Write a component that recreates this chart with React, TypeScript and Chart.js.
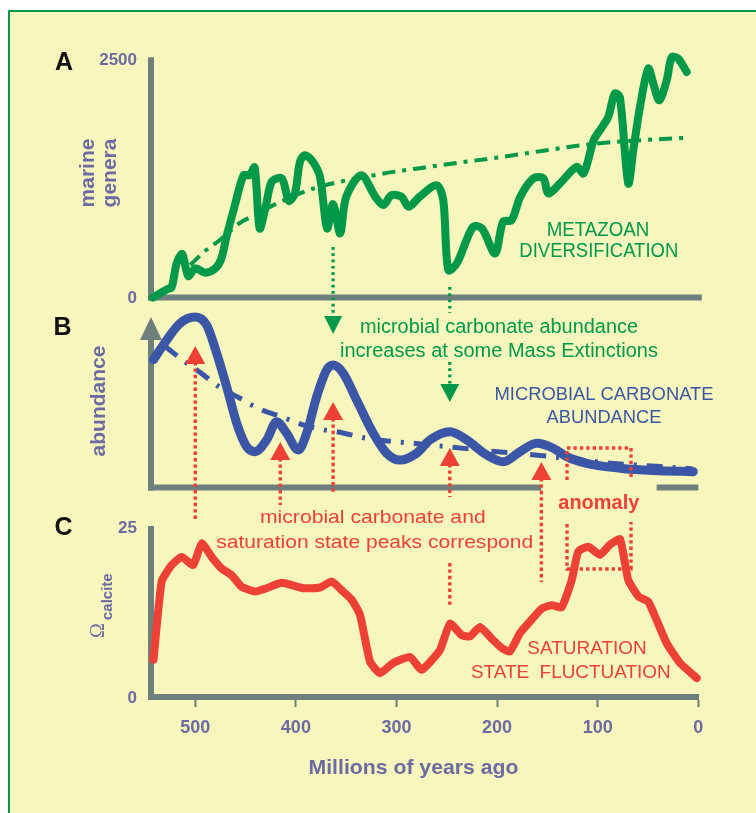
import React, { useEffect, useRef } from 'react';
import { Chart, registerables } from 'chart.js';

Chart.register(...registerables);

const FONT = "'Liberation Sans', Arial, Helvetica, sans-serif";
const GREEN = '#00994a';
const BLUE = '#3b56a6';
const RED = '#ee4136';
const GREY = '#6f7f7e';
const PURPLE = '#6b6aa3';
const YELLOW = '#f7f6bd';

// Panel A: marine genera (Ma, number of genera)
const generaAges = [542, 528, 523.5, 518.5, 513, 507, 500, 490, 480, 474, 469, 461, 452, 446, 441, 436, 430, 424, 414, 407, 401, 396, 391, 383, 376, 369, 363, 356, 350, 335, 321, 313, 305, 295, 288, 277, 260, 253.5, 248.5, 240, 224, 215, 202, 194, 185.5, 177, 164, 154, 149, 137.5, 121, 114, 104, 96, 89.5, 83, 78, 69.6, 64.6, 58, 49.7, 44.7, 38.8, 31.4, 26.4, 20, 11.5];
const generaValues = [0, 86, 107, 358, 456, 225, 306, 260, 306, 411, 637, 952, 1284, 1284, 1365, 725, 952, 1214, 1250, 1015, 1092, 1423, 1494, 1423, 1266, 725, 980, 673, 1057, 1284, 1057, 970, 1074, 1057, 952, 1057, 1179, 1022, 288, 358, 742, 725, 463, 795, 812, 1057, 1250, 1250, 1092, 1197, 1371, 1302, 1651, 1784, 1895, 2140, 2105, 1197, 1546, 2000, 2403, 2245, 2070, 2280, 2524, 2507, 2367];
const generaTrendAges = [505, 489, 475.5, 456, 441, 418, 381, 316, 272, 197, 98, 11.5];
const generaTrendValues = [341, 498, 603, 781, 865, 991, 1148, 1295, 1365, 1473, 1619, 1677];

// Panel B: microbial carbonate abundance (relative units)
const abundAges = [541.5, 528.4, 515.2, 500.3, 488.7, 478.7, 468.8, 458.8, 448.9, 440.7, 429, 419.1, 409.2, 397.6, 389.3, 379.3, 369.4, 362.8, 352.9, 339.6, 323.1, 309.8, 296.5, 279.9, 266.7, 246.8, 230.2, 210.3, 193.8, 177.2, 160.6, 144.1, 130.8, 110.9, 77.8, 44.7, 5];
const abundValues = [75, 86.5, 96.3, 100, 95.3, 78.7, 59.1, 37.7, 23.9, 21, 27.9, 38.6, 31.8, 22, 31.8, 53.3, 68.9, 71.8, 67, 51.3, 31.8, 20.1, 16.1, 20.1, 27.9, 32.7, 27.9, 19.1, 15.1, 21, 25.9, 23, 18.1, 14.2, 11.3, 9.9, 9.3];
const abundTrendAges = [530.5, 512.6, 495.7, 475.9, 456, 436.1, 416.2, 395.3, 376.4, 353.2, 331.4, 309.5, 286.6, 246.8, 207.1, 157.4, 117.6, 77.8, 38, 5.3];
const abundTrendValues = [83, 74.8, 67.7, 58.9, 52.5, 46, 41.9, 37.2, 34.3, 32, 29, 27.3, 26.1, 23.8, 21.4, 18.8, 16.1, 13.8, 12.3, 10.9];

// Panel C: calcite saturation state
const omegaAges = [541.5, 533.4, 523.5, 513.5, 502, 493.6, 483.7, 473.8, 463.8, 453.9, 440.7, 429, 414.1, 392.6, 376, 364.4, 354.5, 344.5, 336.3, 326.3, 316.4, 303.2, 286.6, 275, 256.8, 246.8, 235.2, 226.9, 217, 205.4, 195.4, 187.2, 177.2, 167.3, 155.7, 145.7, 135.8, 125.8, 119.3, 109.3, 97.7, 87.8, 77.8, 69.6, 59.6, 49.7, 41.4, 31.4, 18.2, 1.6];
const omegaValues = [5.5, 17, 19.4, 20.6, 19.4, 22.6, 20.6, 18.9, 17.9, 16.2, 15.5, 16, 16.8, 16, 16.1, 17, 15.7, 14.3, 12.1, 5.2, 3.5, 5, 5.9, 4, 6.9, 10.8, 9.1, 8.9, 10.3, 8.6, 7.2, 6.7, 9.4, 11.1, 13, 13.5, 13.2, 17.2, 21.4, 22.1, 20.9, 22.4, 23.2, 17.2, 14.8, 14, 11.3, 7.9, 5, 2.8];

const xTickValues = [500, 400, 300, 200, 100, 0];
const generaTicks = [0, 2500];
const omegaTicks = [0, 25];

// annotation anchors (ages, Ma)
const extinctionAges = [363, 247];
const peakArrowAges = [500, 415.5, 363, 247, 156];
const anomalyAges = [130.5, 66.9];

const pts = (xs: number[], ys: number[]) => xs.map((x, i) => ({ x, y: ys[i] }));

function dotted(ctx: any, x1: number, y1: number, x2: number, y2: number, color: string, w: number, dash: number[]) {
  ctx.save();
  ctx.strokeStyle = color;
  ctx.lineWidth = w;
  ctx.lineCap = 'butt';
  ctx.setLineDash(dash);
  ctx.beginPath();
  ctx.moveTo(x1, y1);
  ctx.lineTo(x2, y2);
  ctx.stroke();
  ctx.restore();
}

function tri(ctx: any, x: number, tipY: number, baseY: number, hw: number, color: string) {
  ctx.save();
  ctx.fillStyle = color;
  ctx.beginPath();
  ctx.moveTo(x, tipY);
  ctx.lineTo(x - hw, baseY);
  ctx.lineTo(x + hw, baseY);
  ctx.closePath();
  ctx.fill();
  ctx.restore();
}

function solid(ctx: any, x1: number, y1: number, x2: number, y2: number, color: string, w: number) {
  ctx.save();
  ctx.strokeStyle = color;
  ctx.lineWidth = w;
  ctx.lineCap = 'butt';
  ctx.beginPath();
  ctx.moveTo(x1, y1);
  ctx.lineTo(x2, y2);
  ctx.stroke();
  ctx.restore();
}

function fitText(ctx: any, text: string, cx: number, by: number, font: string, color: string, width: number) {
  ctx.save();
  ctx.font = font;
  ctx.fillStyle = color;
  ctx.textAlign = 'center';
  ctx.textBaseline = 'alphabetic';
  const w = ctx.measureText(text).width;
  ctx.translate(cx, by);
  ctx.scale(width / w, 1);
  ctx.fillText(text, 0, 0);
  ctx.restore();
}

function vText(ctx: any, text: string, bx: number, cy: number, font: string, color: string) {
  ctx.save();
  ctx.translate(bx, cy);
  ctx.rotate(-Math.PI / 2);
  ctx.font = font;
  ctx.fillStyle = color;
  ctx.textAlign = 'center';
  ctx.textBaseline = 'alphabetic';
  ctx.fillText(text, 0, 0);
  ctx.restore();
}

const overlay = {
  id: 'overlay',
  beforeDatasetsDraw(chart: any) {
    const ctx = chart.ctx;
    const xs = chart.scales.x;
    const yA = chart.scales.yA;
    const yB = chart.scales.yB;
    const yC = chart.scales.yC;
    const left = chart.chartArea.left;
    const right = xs.getPixelForValue(0);
    // panel A axes
    const a0 = yA.getPixelForValue(0);
    solid(ctx, left, yA.getPixelForValue(2500) - 2, left, a0 + 3, GREY, 6);
    solid(ctx, left - 3, a0, right + 3.5, a0, GREY, 6);
    // panel B axes
    const b0 = yB.getPixelForValue(0);
    tri(ctx, left, 317, 340, 11, GREY);
    solid(ctx, left, 339, left, b0 + 3, GREY, 6);
    solid(ctx, left - 3, b0, xs.getPixelForValue(156), b0, GREY, 6);
    solid(ctx, xs.getPixelForValue(41.4), b0, right, b0, GREY, 6);
    // panel C vertical axis
    solid(ctx, left, yC.getPixelForValue(25) - 1, left, yC.getPixelForValue(0), GREY, 6);
  },
  afterDatasetsDraw(chart: any) {
    const ctx = chart.ctx;
    const xs = chart.scales.x;
    const yA = chart.scales.yA;
    const yC = chart.scales.yC;
    const X = (a: number) => xs.getPixelForValue(a);

    // green dotted arrows (mass extinctions)
    const gd = [2.7, 3.6];
    dotted(ctx, X(extinctionAges[0]), 247, X(extinctionAges[0]), 318, GREEN, 3.3, gd);
    tri(ctx, X(extinctionAges[0]), 334, 316, 9, GREEN);
    dotted(ctx, X(extinctionAges[1]), 287, X(extinctionAges[1]), 313, GREEN, 3.3, gd);
    dotted(ctx, X(extinctionAges[1]), 362, X(extinctionAges[1]), 386, GREEN, 3.3, gd);
    tri(ctx, X(extinctionAges[1]), 402, 384, 9.5, GREEN);

    // red dotted arrows (peaks correspond)
    const rd = [3.4, 3];
    const tips = [346, 442, 402, 448, 462];
    const ends = [520, 505, 492, 497, 582];
    peakArrowAges.forEach((a, i) => {
      dotted(ctx, X(a), tips[i] + 16, X(a), ends[i], RED, 3.4, rd);
      tri(ctx, X(a), tips[i], tips[i] + 18, 10, RED);
    });
    dotted(ctx, X(247), 563, X(247), 607, RED, 3.4, rd);

    // anomaly box
    const xl = X(anomalyAges[0]);
    const xr = X(anomalyAges[1]);
    ctx.save();
    ctx.strokeStyle = RED;
    ctx.lineWidth = 3.4;
    ctx.setLineDash(rd);
    ctx.beginPath();
    ctx.moveTo(xl, 480); ctx.lineTo(xl, 448); ctx.lineTo(xr, 448); ctx.lineTo(xr, 480);
    ctx.stroke();
    ctx.beginPath();
    ctx.moveTo(xl, 524); ctx.lineTo(xl, 569); ctx.lineTo(xr, 569); ctx.lineTo(xr, 522);
    ctx.stroke();
    ctx.restore();

    // panel letters
    ctx.save();
    ctx.fillStyle = '#111';
    ctx.font = `bold 25px ${FONT}`;
    ctx.textAlign = 'center';
    ctx.textBaseline = 'alphabetic';
    ctx.fillText('A', 64, 70);
    ctx.fillText('B', 62.5, 335);
    ctx.fillText('C', 63.5, 535);
    ctx.restore();

    // y tick labels
    ctx.save();
    ctx.fillStyle = PURPLE;
    ctx.font = `bold 17px ${FONT}`;
    ctx.textAlign = 'right';
    ctx.textBaseline = 'middle';
    generaTicks.forEach((v) => ctx.fillText(String(v), 137, yA.getPixelForValue(v) + 1));
    omegaTicks.forEach((v) => ctx.fillText(String(v), 137, yC.getPixelForValue(v) + 1));
    ctx.restore();

    // axis titles
    vText(ctx, 'marine', 94, 173, `bold 21px ${FONT}`, PURPLE);
    vText(ctx, 'genera', 116, 173, `bold 21px ${FONT}`, PURPLE);
    vText(ctx, 'abundance', 105, 401, `bold 21px ${FONT}`, PURPLE);
    ctx.save();
    ctx.translate(104, 638);
    ctx.rotate(-Math.PI / 2);
    ctx.fillStyle = PURPLE;
    ctx.textBaseline = 'alphabetic';
    ctx.textAlign = 'left';
    ctx.font = `20px 'Liberation Serif', 'DejaVu Serif', serif`;
    ctx.fillText('\u03A9', 0, 0);
    ctx.font = `bold 15px ${FONT}`;
    ctx.fillText('calcite', 18, 8);
    ctx.restore();
    fitText(ctx, 'Millions of years ago', 413.5, 773.5, `bold 21px ${FONT}`, PURPLE, 210);

    // series labels
    fitText(ctx, 'METAZOAN', 598, 236, `20px ${FONT}`, GREEN, 102.6);
    fitText(ctx, 'DIVERSIFICATION', 598.8, 256.7, `20px ${FONT}`, GREEN, 159);
    fitText(ctx, 'microbial carbonate abundance', 499, 333.3, `20px ${FONT}`, GREEN, 278);
    fitText(ctx, 'increases at some Mass Extinctions', 499, 356.7, `20px ${FONT}`, GREEN, 318);
    fitText(ctx, 'MICROBIAL CARBONATE', 604, 400, `19px ${FONT}`, BLUE, 219);
    fitText(ctx, 'ABUNDANCE', 604, 423.3, `19px ${FONT}`, BLUE, 115);
    fitText(ctx, 'anomaly', 598.8, 509, `bold 20px ${FONT}`, RED, 81);
    fitText(ctx, 'microbial carbonate and', 372.8, 523.3, `19px ${FONT}`, RED, 225.7);
    fitText(ctx, 'saturation state peaks correspond', 374.7, 547.5, `19px ${FONT}`, RED, 317);
    fitText(ctx, 'SATURATION', 587, 654, `18.5px ${FONT}`, RED, 119.4);
    fitText(ctx, 'STATE  FLUCTUATION', 570.8, 678.3, `18.5px ${FONT}`, RED, 199.7);
  },
};

export default function App() {
  const ref = useRef<HTMLCanvasElement>(null);
  useEffect(() => {
    if (!ref.current) return;
    Chart.defaults.font.family = FONT;
    const line = (data: any, color: string, width: number, axis: string, extra: any = {}) => ({
      data,
      borderColor: color,
      borderWidth: width,
      pointRadius: 0,
      pointHoverRadius: 0,
      fill: false,
      yAxisID: axis,
      borderJoinStyle: 'round',
      borderCapStyle: 'round',
      clip: false,
      ...extra,
    });
    const chart = new Chart(ref.current, {
      type: 'line',
      data: {
        datasets: [
          line(pts(generaTrendAges, generaTrendValues), GREEN, 4, 'yA', { borderDash: [13, 7, 4, 7], borderCapStyle: 'butt', tension: 0.4, cubicInterpolationMode: 'monotone' }),
          line(pts(abundTrendAges, abundTrendValues), BLUE, 5, 'yB', { borderDash: [16, 10, 3, 10], borderCapStyle: 'butt', tension: 0.4, cubicInterpolationMode: 'monotone' }),
          line(pts(generaAges, generaValues), GREEN, 8, 'yA', { tension: 0.3 }),
          line(pts(abundAges, abundValues), BLUE, 9, 'yB', { cubicInterpolationMode: 'monotone' }),
          line(pts(omegaAges, omegaValues), RED, 8, 'yC', { tension: 0.15 }),
        ],
      },
      options: {
        responsive: false,
        animation: false,
        events: [],
        parsing: true,
        layout: { padding: { left: 151, right: 57.7, top: 40, bottom: 26 } },
        plugins: { legend: { display: false }, tooltip: { enabled: false }, title: { display: false } },
        scales: {
          x: {
            type: 'linear',
            reverse: true,
            min: 0,
            max: 544,
            afterBuildTicks: (s: any) => { s.ticks = xTickValues.map((v) => ({ value: v })); },
            afterFit: (s: any) => { s.height = 90; },
            grid: { display: true, drawOnChartArea: false, drawTicks: true, tickLength: 10, tickWidth: 2, tickColor: GREY },
            border: { display: true, color: GREY, width: 6 },
            ticks: { color: PURPLE, font: { family: FONT, size: 18, weight: 'bold' }, padding: 10, maxRotation: 0, autoSkip: false },
            title: { display: false },
          },
          yA: { type: 'linear', display: false, min: -4193, max: 2702.6 },
          yB: { type: 'linear', display: false, min: -122.9, max: 262.5 },
          yC: { type: 'linear', display: false, min: 0, max: 96.6 },
        },
      } as any,
      plugins: [overlay],
    } as any);
    return () => chart.destroy();
  }, []);
  return (
    <div style={{ position: 'fixed', left: 0, top: 0, width: 756, height: 813, overflow: 'hidden', background: '#ffffff' }}>
      <div style={{ position: 'absolute', left: 8, top: 10, width: 800, height: 900, background: YELLOW, borderLeft: `2px solid ${GREEN}`, borderTop: `2px solid ${GREEN}` }} />
      <canvas ref={ref} width={756} height={813} style={{ position: 'absolute', left: 0, top: 0, width: 756, height: 813 }} />
    </div>
  );
}
